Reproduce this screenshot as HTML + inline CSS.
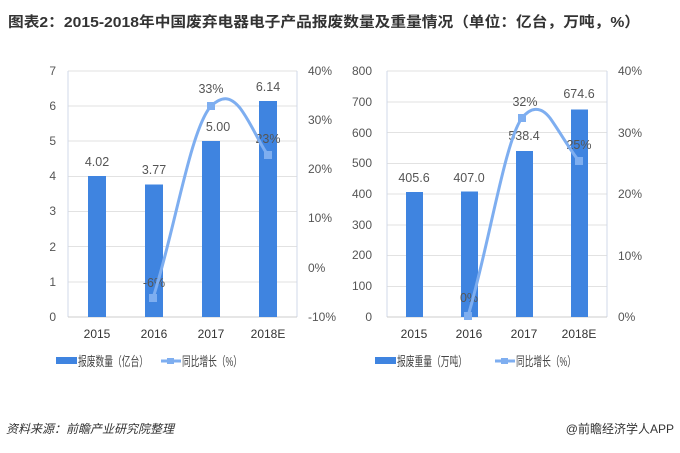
<!DOCTYPE html>
<html><head><meta charset="utf-8"><style>
body{margin:0;background:#fff;width:680px;height:448px;overflow:hidden}
svg text{font-family:"Liberation Sans","Noto Sans CJK SC",sans-serif}
</style></head><body>
<svg width="680" height="448" xmlns="http://www.w3.org/2000/svg">
<text x="8" y="27" font-size="14.5" font-weight="bold" fill="#333" textLength="632" lengthAdjust="spacingAndGlyphs">图表2：2015-2018年中国废弃电器电子产品报废数量及重量情况（单位：亿台，万吨，%）</text>
<g stroke="#e2e2e2" stroke-width="1">
<line x1="68" x2="297" y1="71" y2="71"/><line x1="68" x2="297" y1="106" y2="106"/><line x1="68" x2="297" y1="141" y2="141"/><line x1="68" x2="297" y1="176.5" y2="176.5"/><line x1="68" x2="297" y1="211.5" y2="211.5"/><line x1="68" x2="297" y1="246.5" y2="246.5"/><line x1="68" x2="297" y1="282" y2="282"/>
<line x1="68" x2="68" y1="71" y2="317" stroke="#d0d8e8"/><line x1="297" x2="297" y1="71" y2="317" stroke="#d0d8e8"/><line x1="68" x2="297" y1="317" y2="317" stroke="#ccc"/>
<line x1="387" x2="607" y1="71" y2="71"/><line x1="387" x2="607" y1="102" y2="102"/><line x1="387" x2="607" y1="132.5" y2="132.5"/><line x1="387" x2="607" y1="163.5" y2="163.5"/><line x1="387" x2="607" y1="194" y2="194"/><line x1="387" x2="607" y1="225" y2="225"/><line x1="387" x2="607" y1="255.5" y2="255.5"/><line x1="387" x2="607" y1="286.5" y2="286.5"/>
<line x1="387" x2="387" y1="71" y2="317" stroke="#d0d8e8"/><line x1="607" x2="607" y1="71" y2="317" stroke="#d0d8e8"/><line x1="387" x2="607" y1="317" y2="317" stroke="#ccc"/>
</g>
<g fill="#3f84e0">
<rect x="88" y="176" width="18" height="141"/><rect x="145" y="184.5" width="18" height="132.5"/><rect x="202" y="141" width="18" height="176"/><rect x="259" y="101" width="18" height="216"/>
<rect x="406" y="192" width="17" height="125"/><rect x="461" y="191.5" width="17" height="125.5"/><rect x="516" y="151" width="17" height="166"/><rect x="571" y="109.5" width="17" height="207.5"/>
</g>
<g fill="#555" font-size="12" text-anchor="end">
<text x="56" y="75">7</text><text x="56" y="110">6</text><text x="56" y="145">5</text><text x="56" y="180">4</text><text x="56" y="215">3</text><text x="56" y="251">2</text><text x="56" y="286">1</text><text x="56" y="321">0</text>
<text x="372" y="75">800</text><text x="372" y="106">700</text><text x="372" y="137">600</text><text x="372" y="167">500</text><text x="372" y="198">400</text><text x="372" y="229">300</text><text x="372" y="259">200</text><text x="372" y="290">100</text><text x="372" y="321">0</text>
</g>
<g fill="#555" font-size="12">
<text x="308" y="75">40%</text><text x="308" y="124">30%</text><text x="308" y="173">20%</text><text x="308" y="222">10%</text><text x="308" y="272">0%</text><text x="308" y="321">-10%</text>
<text x="618" y="75">40%</text><text x="618" y="137">30%</text><text x="618" y="198">20%</text><text x="618" y="260">10%</text><text x="618" y="321">0%</text>
</g>
<g fill="#333" font-size="12" text-anchor="middle">
<text x="97" y="338">2015</text><text x="154" y="338">2016</text><text x="211" y="338">2017</text><text x="268" y="338">2018E</text>
<text x="414" y="338">2015</text><text x="469" y="338">2016</text><text x="524" y="338">2017</text><text x="579" y="338">2018E</text>
</g>
<g fill="#555" font-size="12.5" text-anchor="middle">
<text x="97" y="166">4.02</text><text x="154" y="174">3.77</text><text x="218" y="131">5.00</text><text x="268" y="91">6.14</text>
<text x="154" y="287">-6%</text><text x="211" y="93">33%</text><text x="268" y="143">23%</text>
<text x="414" y="182">405.6</text><text x="469" y="182">407.0</text><text x="524" y="140">538.4</text><text x="579" y="98">674.6</text>
<text x="469" y="302">0%</text><text x="525" y="106">32%</text><text x="579" y="149">25%</text>
</g>
<g fill="none" stroke="#7eaef0" stroke-width="3">
<path d="M153,298 C175,230 190,130 211,106 C222,96 230,96 240,108 C252,124 260,145 268,155"/>
<path d="M468,316 C488,250 505,140 522,118 C530,108 540,105 550,118 C560,132 570,150 579,161"/>
</g>
<g fill="#7eaef0">
<rect x="149" y="294" width="8" height="8"/><rect x="207" y="102" width="8" height="8"/><rect x="264" y="151" width="8" height="8"/>
<rect x="464" y="312" width="8" height="8"/><rect x="518" y="114" width="8" height="8"/><rect x="575" y="157" width="8" height="8"/>
</g>
<g font-size="13" fill="#444">
<rect x="56" y="357" width="21" height="7" fill="#3f84e0"/>
<text x="78" y="366" textLength="70" lengthAdjust="spacingAndGlyphs">报废数量（亿台）</text>
<line x1="161" x2="181" y1="361" y2="361" stroke="#7eaef0" stroke-width="3"/><rect x="167" y="358" width="7" height="6" fill="#7eaef0"/>
<text x="182" y="366" textLength="60" lengthAdjust="spacingAndGlyphs">同比增长（%）</text>
<rect x="375" y="357" width="21" height="7" fill="#3f84e0"/>
<text x="397" y="366" textLength="70" lengthAdjust="spacingAndGlyphs">报废重量（万吨）</text>
<line x1="495" x2="515" y1="361" y2="361" stroke="#7eaef0" stroke-width="3"/><rect x="501" y="358" width="7" height="6" fill="#7eaef0"/>
<text x="516" y="366" textLength="60" lengthAdjust="spacingAndGlyphs">同比增长（%）</text>
</g>
<text x="6" y="433" font-size="12" font-style="italic" fill="#333">资料来源：前瞻产业研究院整理</text>
<text x="674" y="433" font-size="12" fill="#333" text-anchor="end">@前瞻经济学人APP</text>
</svg>
</body></html>
